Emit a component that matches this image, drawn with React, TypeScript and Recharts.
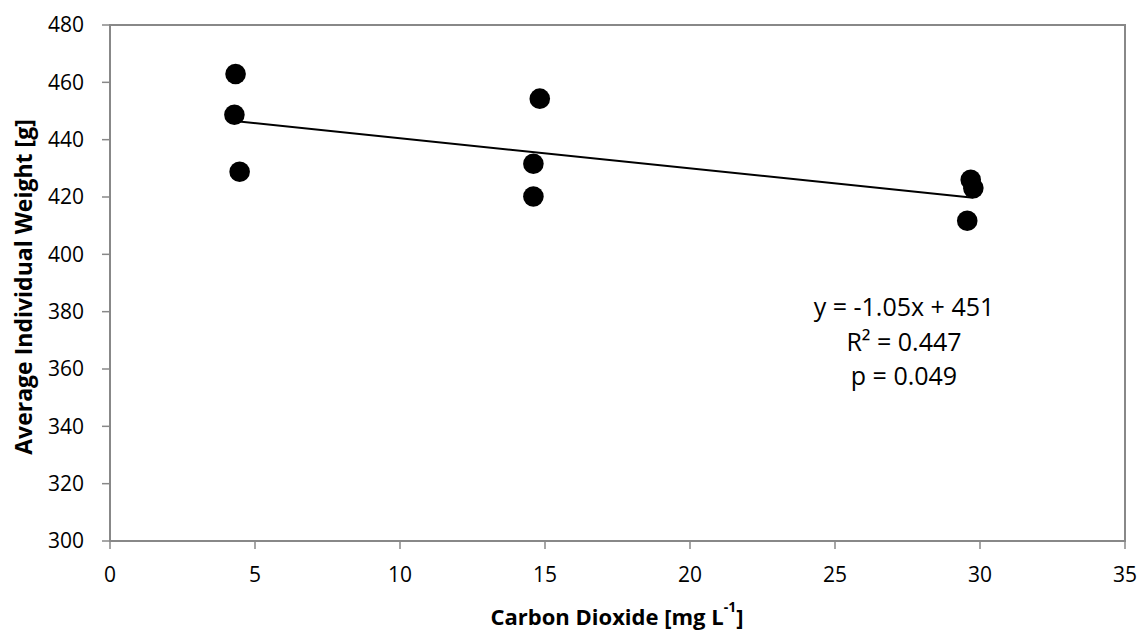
import { ScatterChart, Scatter, XAxis, YAxis, ReferenceArea, Customized } from 'recharts';

const co2 = [4.33, 4.29, 4.47, 14.82, 14.6, 14.6, 29.68, 29.77, 29.56];
const weight = [462.9, 448.7, 428.8, 454.3, 431.6, 420.2, 426.0, 423.1, 411.7];
const xTicks = [0, 5, 10, 15, 20, 25, 30, 35];
const yTicks = [300, 320, 340, 360, 380, 400, 420, 440, 460, 480];
const slope = -1.05;
const intercept = 451;
const statLines = ['y = -1.05x + 451', 'R² = 0.447', 'p = 0.049'];

const points = co2.map((x, i) => ({ x, y: weight[i] }));
const xMin = Math.min(...co2);
const xMax = Math.max(...co2);
const trend = [
  { x: xMin, y: slope * xMin + intercept },
  { x: xMax, y: slope * xMax + intercept },
];

const font = "'Open Sans', 'Noto Sans', sans-serif";
const axisColor = '#888888';

export default function App() {
  return (
    <div style={{ position: 'absolute', left: 0, top: 0, background: '#fff' }}>
      <ScatterChart width={1141} height={630} margin={{ top: 25, right: 16, left: 30, bottom: 48 }}>
        <XAxis
          type="number"
          dataKey="x"
          domain={[0, 35]}
          ticks={xTicks}
          axisLine={{ stroke: axisColor, strokeWidth: 2 }}
          tickLine={{ stroke: axisColor, strokeWidth: 1.5 }}
          tickSize={8}
          tick={{ fill: '#000', fontSize: 21, fontFamily: font }}
          tickMargin={18}
          height={41}
        />
        <YAxis
          type="number"
          dataKey="y"
          domain={[300, 480]}
          ticks={yTicks}
          axisLine={{ stroke: axisColor, strokeWidth: 2 }}
          tickLine={{ stroke: axisColor, strokeWidth: 1.5 }}
          tickSize={8}
          tick={{ fill: '#000', fontSize: 21, fontFamily: font }}
          tickMargin={18}
          width={80}
        />
        <ReferenceArea x1={0} x2={35} y1={300} y2={480} fill="none" stroke={axisColor} strokeWidth={2} />
        <Scatter
          data={trend}
          line={{ stroke: '#000', strokeWidth: 2 }}
          shape={() => <g />}
          isAnimationActive={false}
        />
        <Scatter data={points} fill="#000" shape={(p: any) => <circle cx={p.cx} cy={p.cy} r={10.3} fill="#000" />} isAnimationActive={false} />
        <Customized
          component={() => (
            <g fontFamily={font} fill="#000">
              {statLines.map((s, i) => (
                <text key={s} x={904} y={306 + i * 34.5} textAnchor="middle" dominantBaseline="central" fontSize={25}>
                  {s}
                </text>
              ))}
              <text x={617} y={616} textAnchor="middle" dominantBaseline="central" fontSize={22} fontWeight="bold">
                Carbon Dioxide [mg L
                <tspan baselineShift="super" fontSize={14}>-1</tspan>
                ]
              </text>
              <text
                x={23}
                y={287}
                textAnchor="middle"
                dominantBaseline="central"
                fontSize={23}
                fontWeight="bold"
                transform="rotate(-90 23 287)"
              >
                Average Individual Weight [g]
              </text>
            </g>
          )}
        />
      </ScatterChart>
    </div>
  );
}
